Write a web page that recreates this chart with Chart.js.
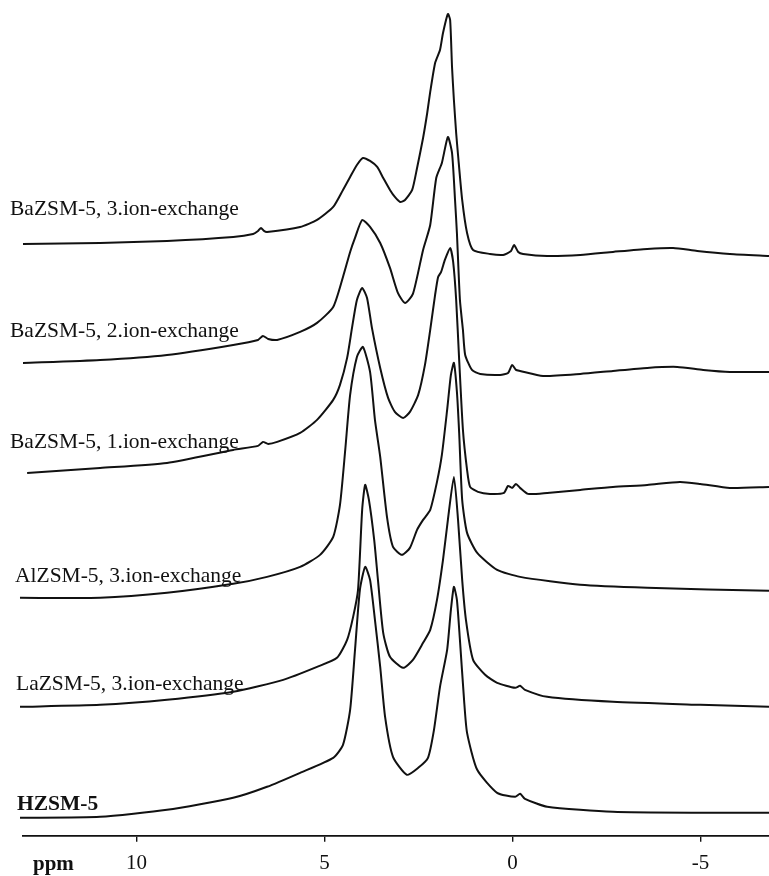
<!DOCTYPE html>
<html>
<head>
<meta charset="utf-8">
<script src="https://cdn.jsdelivr.net/npm/chart.js@4.4.1/dist/chart.umd.min.js"></script>
<style>
  body { margin: 0; background: #fff; }
  canvas { display: block; }
</style>
</head>
<body>
<canvas id="chartdiv" width="769" height="876"></canvas>
<script>
// ppm / stacked intensity pairs (top spectrum first)
const baZsm5_3 = [
  [13.02, 592], [10.97, 593], [9.19, 595], [7.43, 599], [6.90, 602], [6.77, 605], [6.69, 608], [6.61, 605],
  [6.53, 604], [5.65, 609], [5.20, 616], [4.77, 629], [4.51, 646], [4.32, 659], [4.14, 671], [3.98, 678],
  [3.79, 675], [3.60, 669], [3.44, 658], [3.26, 646], [3.13, 639], [2.99, 634], [2.86, 636], [2.67, 646],
  [2.54, 668], [2.38, 698], [2.27, 723], [2.19, 744], [2.06, 773], [1.93, 786], [1.85, 803], [1.72, 822],
  [1.66, 816], [1.61, 769], [1.56, 736], [1.50, 703], [1.45, 681], [1.34, 636], [1.21, 603], [1.05, 586],
  [0.60, 582], [0.25, 581], [0.04, 585], [-0.04, 591], [-0.15, 584], [-0.28, 582], [-0.92, 580], [-1.80, 581],
  [-2.67, 584], [-3.58, 587], [-4.27, 588], [-4.91, 585], [-5.78, 582], [-6.82, 580]
];
const baZsm5_2 = [
  [13.02, 473], [10.97, 476], [9.19, 481], [7.43, 491], [6.77, 496], [6.64, 500], [6.50, 497], [6.26, 496],
  [5.65, 504], [5.20, 513], [4.77, 529], [4.51, 559], [4.32, 584], [4.19, 598], [4.00, 616], [3.79, 609],
  [3.52, 593], [3.26, 568], [3.05, 543], [2.86, 533], [2.65, 542], [2.38, 586], [2.19, 611], [2.03, 658],
  [1.88, 673], [1.72, 699], [1.61, 683], [1.53, 636], [1.48, 603], [1.40, 536], [1.32, 506], [1.26, 481],
  [1.08, 466], [0.86, 462], [0.33, 461], [0.12, 463], [0.01, 471], [-0.09, 466], [-0.20, 465], [-0.81, 460],
  [-1.80, 462], [-2.67, 465], [-3.58, 468], [-4.38, 469], [-5.07, 466], [-5.78, 464], [-6.82, 464]
];
const baZsm5_1 = [
  [12.91, 363], [10.97, 368], [9.19, 373], [7.43, 386], [6.77, 390], [6.64, 394], [6.50, 392], [6.26, 394],
  [5.65, 403], [5.20, 416], [4.77, 436], [4.59, 451], [4.40, 478], [4.27, 508], [4.14, 536], [4.00, 548],
  [3.87, 538], [3.74, 508], [3.52, 468], [3.31, 438], [3.13, 424], [2.91, 418], [2.73, 424], [2.51, 441],
  [2.33, 471], [2.19, 506], [2.06, 541], [1.98, 559], [1.90, 564], [1.80, 576], [1.66, 588], [1.58, 574],
  [1.50, 536], [1.42, 476], [1.32, 406], [1.21, 366], [1.13, 349], [0.92, 344], [0.60, 342], [0.23, 343],
  [0.12, 350], [0.01, 348], [-0.09, 352], [-0.20, 348], [-0.41, 342], [-0.92, 343], [-1.80, 346], [-2.67, 349],
  [-3.58, 351], [-4.45, 354], [-4.99, 352], [-5.78, 348], [-6.82, 349]
];
const alZsm5_3 = [
  [13.10, 238], [10.97, 238], [9.19, 243], [7.43, 252], [6.53, 259], [5.65, 269], [5.12, 281], [4.77, 299],
  [4.59, 331], [4.45, 386], [4.32, 441], [4.14, 479], [3.98, 489], [3.79, 464], [3.66, 416], [3.52, 379],
  [3.34, 319], [3.18, 289], [2.94, 281], [2.73, 288], [2.54, 306], [2.38, 316], [2.19, 326], [2.01, 354],
  [1.88, 381], [1.74, 426], [1.64, 461], [1.56, 473], [1.48, 444], [1.42, 403], [1.34, 336], [1.21, 303],
  [0.94, 283], [0.41, 266], [-0.20, 259], [-1.80, 251], [-3.58, 248], [-6.82, 245]
];
const laZsm5_3 = [
  [13.10, 129], [10.97, 131], [9.19, 136], [7.43, 144], [6.10, 156], [5.20, 169], [4.67, 178], [4.40, 196],
  [4.24, 219], [4.11, 246], [4.00, 326], [3.92, 351], [3.82, 336], [3.68, 296], [3.58, 256], [3.44, 203],
  [3.26, 179], [2.91, 168], [2.65, 176], [2.38, 193], [2.19, 206], [2.01, 236], [1.85, 276], [1.72, 316],
  [1.56, 359], [1.45, 316], [1.34, 256], [1.24, 216], [1.05, 176], [0.73, 161], [0.41, 153], [-0.07, 148],
  [-0.20, 150], [-0.33, 146], [-0.92, 139], [-2.67, 134], [-4.99, 131], [-6.82, 129]
];
const hZsm5 = [
  [13.10, 18], [10.97, 19], [9.19, 26], [7.43, 38], [6.53, 49], [5.65, 63], [4.77, 78], [4.51, 91],
  [4.32, 126], [4.19, 186], [4.06, 246], [3.92, 269], [3.79, 256], [3.66, 216], [3.52, 169], [3.39, 119],
  [3.18, 79], [2.81, 61], [2.51, 68], [2.25, 78], [2.09, 106], [1.93, 149], [1.74, 186], [1.64, 226],
  [1.56, 249], [1.48, 236], [1.40, 196], [1.29, 136], [1.21, 103], [0.94, 66], [0.41, 43], [-0.07, 39],
  [-0.20, 42], [-0.33, 37], [-0.92, 29], [-2.67, 24], [-4.99, 23], [-6.82, 23]
];

const sampleNames = [
  'BaZSM-5, 3.ion-exchange',
  'BaZSM-5, 2.ion-exchange',
  'BaZSM-5, 1.ion-exchange',
  'AlZSM-5, 3.ion-exchange',
  'LaZSM-5, 3.ion-exchange',
  'HZSM-5'
];
const spectra = [baZsm5_3, baZsm5_2, baZsm5_1, alZsm5_3, laZsm5_3, hZsm5];
const tickValues = [10, 5, 0, -5];
const axisTitle = 'ppm';

// where each sample name sits (left x, baseline y in px)
const labelSpots = [[10, 215], [10, 337], [10, 448], [15, 582], [16, 690], [17, 810]];

const serif = '"Liberation Serif", "Times New Roman", serif';

const textPlugin = {
  id: 'sampleText',
  afterDraw(chart) {
    const ctx = chart.ctx;
    ctx.save();
    ctx.fillStyle = '#111';
    ctx.textBaseline = 'alphabetic';
    ctx.textAlign = 'left';
    sampleNames.forEach((name, i) => {
      ctx.font = (i === 5 ? 'bold ' : '') + '21.5px ' + serif;
      ctx.fillText(name, labelSpots[i][0], labelSpots[i][1]);
    });
    ctx.font = 'bold 21px ' + serif;
    ctx.fillText(axisTitle, 33, 870);
    ctx.restore();
  }
};

const datasets = spectra.map((pts, i) => ({
  label: sampleNames[i],
  data: pts.map(p => ({ x: p[0], y: p[1] })),
  borderColor: '#111',
  borderWidth: 2,
  pointRadius: 0,
  tension: 0.2,
  fill: false,
  clip: false
}));

new Chart(document.getElementById('chartdiv'), {
  type: 'line',
  data: { datasets: datasets },
  options: {
    responsive: false,
    animation: false,
    devicePixelRatio: 1,
    // the axis block is 49px tall (tick + label + 2*padding); pull it down so the
    // axis line lands at y=836 like the scan
    layout: { padding: { left: 23, right: 0, top: 0, bottom: -9 } },
    plugins: { legend: { display: false }, tooltip: { enabled: false } },
    scales: {
      x: {
        type: 'linear',
        reverse: true,
        min: -6.82,
        max: 13.02,
        afterBuildTicks: (scale) => { scale.ticks = tickValues.map(v => ({ value: v })); },
        border: { display: true, color: '#111', width: 1.8 },
        grid: { drawOnChartArea: false, drawTicks: true, tickLength: 6, color: '#111', lineWidth: 1.4 },
        ticks: {
          color: '#111',
          padding: 9,
          maxRotation: 0,
          font: { family: serif, size: 21 }
        }
      },
      y: { display: false, min: 0, max: 836 }
    }
  },
  plugins: [textPlugin]
});
</script>
</body>
</html>
